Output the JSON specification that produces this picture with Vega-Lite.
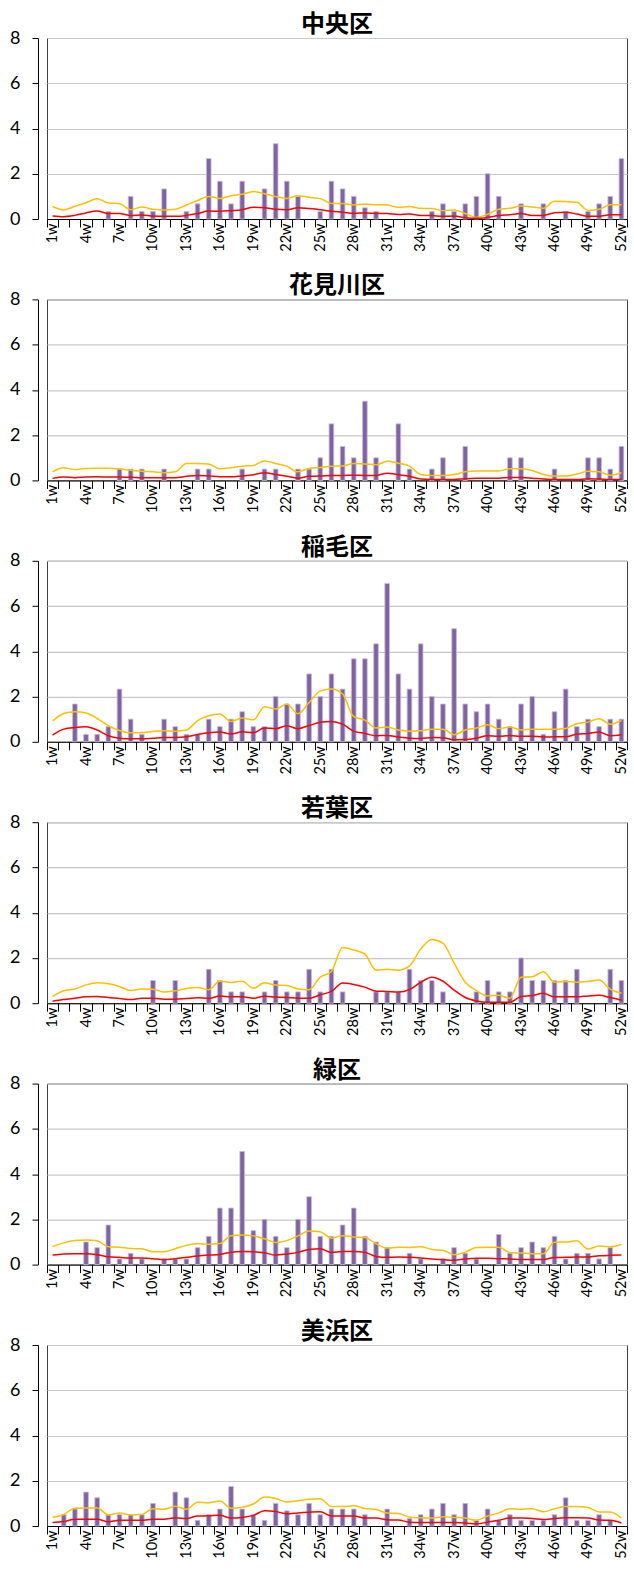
{
"$schema": "https://vega.github.io/schema/vega-lite/v6.json",
"padding": {"left": 9, "top": 12, "right": 0, "bottom": 0},
"background": "white",
"config": {
  "view": {"stroke": "#404040", "strokeWidth": 1},
  "font": "Lato",
  "axis": {"labelColor": "black", "domainColor": "black", "tickColor": "black", "title": null}
},
"data": {"values": [
{"k":"中央区","w":1,"v":0,"r":0.13,"o":0.55},{"k":"中央区","w":2,"v":0,"r":0.1,"o":0.4},{"k":"中央区","w":3,"v":0,"r":0.16,"o":0.56},{"k":"中央区","w":4,"v":0,"r":0.27,"o":0.72},{"k":"中央区","w":5,"v":0,"r":0.35,"o":0.9},{"k":"中央区","w":6,"v":0.33,"r":0.24,"o":0.71},{"k":"中央区","w":7,"v":0,"r":0.24,"o":0.68},{"k":"中央区","w":8,"v":1,"r":0.15,"o":0.41},{"k":"中央区","w":9,"v":0.33,"r":0.18,"o":0.53},{"k":"中央区","w":10,"v":0.33,"r":0.13,"o":0.43},
{"k":"中央区","w":11,"v":1.33,"r":0.12,"o":0.4},{"k":"中央区","w":12,"v":0,"r":0.12,"o":0.43},{"k":"中央区","w":13,"v":0.33,"r":0.16,"o":0.62},{"k":"中央区","w":14,"v":0.67,"r":0.24,"o":0.82},{"k":"中央区","w":15,"v":2.67,"r":0.35,"o":0.99},{"k":"中央区","w":16,"v":1.67,"r":0.34,"o":0.91},{"k":"中央区","w":17,"v":0.67,"r":0.37,"o":1.03},{"k":"中央区","w":18,"v":1.67,"r":0.41,"o":1.09},{"k":"中央区","w":19,"v":0,"r":0.52,"o":1.22},{"k":"中央区","w":20,"v":1.33,"r":0.5,"o":1.12},
{"k":"中央区","w":21,"v":3.33,"r":0.43,"o":0.99},{"k":"中央区","w":22,"v":1.67,"r":0.41,"o":0.91},{"k":"中央区","w":23,"v":1,"r":0.5,"o":1.03},{"k":"中央区","w":24,"v":0,"r":0.46,"o":0.96},{"k":"中央区","w":25,"v":0.33,"r":0.41,"o":0.9},{"k":"中央区","w":26,"v":1.67,"r":0.34,"o":0.69},{"k":"中央区","w":27,"v":1.33,"r":0.3,"o":0.69},{"k":"中央区","w":28,"v":1,"r":0.25,"o":0.62},{"k":"中央区","w":29,"v":0.5,"r":0.27,"o":0.66},{"k":"中央区","w":30,"v":0.33,"r":0.25,"o":0.63},
{"k":"中央区","w":31,"v":0,"r":0.24,"o":0.62},{"k":"中央区","w":32,"v":0,"r":0.2,"o":0.52},{"k":"中央区","w":33,"v":0,"r":0.22,"o":0.55},{"k":"中央区","w":34,"v":0,"r":0.16,"o":0.47},{"k":"中央区","w":35,"v":0.33,"r":0.15,"o":0.46},{"k":"中央区","w":36,"v":0.67,"r":0.12,"o":0.37},{"k":"中央区","w":37,"v":0.33,"r":0.13,"o":0.4},{"k":"中央区","w":38,"v":0.67,"r":0.06,"o":0.24},{"k":"中央区","w":39,"v":1,"r":0.03,"o":0.07},{"k":"中央区","w":40,"v":2,"r":0.07,"o":0.21},
{"k":"中央区","w":41,"v":1,"r":0.15,"o":0.43},{"k":"中央区","w":42,"v":0,"r":0.19,"o":0.47},{"k":"中央区","w":43,"v":0.67,"r":0.24,"o":0.57},{"k":"中央区","w":44,"v":0,"r":0.16,"o":0.53},{"k":"中央区","w":45,"v":0.67,"r":0.16,"o":0.47},{"k":"中央区","w":46,"v":0,"r":0.28,"o":0.78},{"k":"中央区","w":47,"v":0.33,"r":0.3,"o":0.77},{"k":"中央区","w":48,"v":0,"r":0.22,"o":0.74},{"k":"中央区","w":49,"v":0.33,"r":0.12,"o":0.38},{"k":"中央区","w":50,"v":0.67,"r":0.12,"o":0.43},
{"k":"中央区","w":51,"v":1,"r":0.19,"o":0.63},{"k":"中央区","w":52,"v":2.67,"r":0.19,"o":0.63},

{"k":"花見川区","w":1,"v":0,"r":0.09,"o":0.38},{"k":"花見川区","w":2,"v":0,"r":0.15,"o":0.56},{"k":"花見川区","w":3,"v":0,"r":0.12,"o":0.48},{"k":"花見川区","w":4,"v":0,"r":0.15,"o":0.53},{"k":"花見川区","w":5,"v":0,"r":0.16,"o":0.54},{"k":"花見川区","w":6,"v":0,"r":0.15,"o":0.54},{"k":"花見川区","w":7,"v":0.5,"r":0.15,"o":0.51},{"k":"花見川区","w":8,"v":0.5,"r":0.14,"o":0.45},{"k":"花見川区","w":9,"v":0.5,"r":0.12,"o":0.4},{"k":"花見川区","w":10,"v":0,"r":0.12,"o":0.38},
{"k":"花見川区","w":11,"v":0.5,"r":0.12,"o":0.34},{"k":"花見川区","w":12,"v":0,"r":0.12,"o":0.38},{"k":"花見川区","w":13,"v":0,"r":0.18,"o":0.75},{"k":"花見川区","w":14,"v":0.5,"r":0.22,"o":0.75},{"k":"花見川区","w":15,"v":0.5,"r":0.2,"o":0.72},{"k":"花見川区","w":16,"v":0,"r":0.16,"o":0.51},{"k":"花見川区","w":17,"v":0,"r":0.16,"o":0.56},{"k":"花見川区","w":18,"v":0.5,"r":0.2,"o":0.63},{"k":"花見川区","w":19,"v":0,"r":0.25,"o":0.66},{"k":"花見川区","w":20,"v":0.5,"r":0.34,"o":0.86},
{"k":"花見川区","w":21,"v":0.5,"r":0.26,"o":0.75},{"k":"花見川区","w":22,"v":0,"r":0.18,"o":0.63},{"k":"花見川区","w":23,"v":0.5,"r":0.1,"o":0.38},{"k":"花見川区","w":24,"v":0.5,"r":0.18,"o":0.53},{"k":"花見川区","w":25,"v":1,"r":0.19,"o":0.57},{"k":"花見川区","w":26,"v":2.5,"r":0.22,"o":0.63},{"k":"花見川区","w":27,"v":1.5,"r":0.22,"o":0.64},{"k":"花見川区","w":28,"v":1,"r":0.23,"o":0.75},{"k":"花見川区","w":29,"v":3.5,"r":0.22,"o":0.73},{"k":"花見川区","w":30,"v":1,"r":0.22,"o":0.69},
{"k":"花見川区","w":31,"v":0,"r":0.32,"o":0.85},{"k":"花見川区","w":32,"v":2.5,"r":0.25,"o":0.76},{"k":"花見川区","w":33,"v":0.5,"r":0.18,"o":0.63},{"k":"花見川区","w":34,"v":0,"r":0.06,"o":0.26},{"k":"花見川区","w":35,"v":0.5,"r":0.04,"o":0.22},{"k":"花見川区","w":36,"v":1,"r":0.04,"o":0.22},{"k":"花見川区","w":37,"v":0,"r":0.04,"o":0.26},{"k":"花見川区","w":38,"v":1.5,"r":0.07,"o":0.38},{"k":"花見川区","w":39,"v":0,"r":0.09,"o":0.42},{"k":"花見川区","w":40,"v":0,"r":0.1,"o":0.42},
{"k":"花見川区","w":41,"v":0,"r":0.1,"o":0.42},{"k":"花見川区","w":42,"v":1,"r":0.13,"o":0.51},{"k":"花見川区","w":43,"v":1,"r":0.13,"o":0.51},{"k":"花見川区","w":44,"v":0,"r":0.1,"o":0.44},{"k":"花見川区","w":45,"v":0,"r":0.06,"o":0.26},{"k":"花見川区","w":46,"v":0.5,"r":0.04,"o":0.19},{"k":"花見川区","w":47,"v":0,"r":0.04,"o":0.19},{"k":"花見川区","w":48,"v":0,"r":0.04,"o":0.28},{"k":"花見川区","w":49,"v":1,"r":0.07,"o":0.4},{"k":"花見川区","w":50,"v":1,"r":0.06,"o":0.38},
{"k":"花見川区","w":51,"v":0.5,"r":0.04,"o":0.23},{"k":"花見川区","w":52,"v":1.5,"r":0.04,"o":0.34},

{"k":"稲毛区","w":1,"v":0,"r":0.3,"o":0.92},{"k":"稲毛区","w":2,"v":0,"r":0.56,"o":1.25},{"k":"稲毛区","w":3,"v":1.67,"r":0.63,"o":1.33},{"k":"稲毛区","w":4,"v":0.33,"r":0.66,"o":1.27},{"k":"稲毛区","w":5,"v":0.33,"r":0.52,"o":1.03},{"k":"稲毛区","w":6,"v":0.67,"r":0.27,"o":0.71},{"k":"稲毛区","w":7,"v":2.33,"r":0.16,"o":0.5},{"k":"稲毛区","w":8,"v":1,"r":0.13,"o":0.4},{"k":"稲毛区","w":9,"v":0.33,"r":0.13,"o":0.41},{"k":"稲毛区","w":10,"v":0,"r":0.16,"o":0.46},
{"k":"稲毛区","w":11,"v":1,"r":0.19,"o":0.49},{"k":"稲毛区","w":12,"v":0.67,"r":0.19,"o":0.47},{"k":"稲毛区","w":13,"v":0.33,"r":0.22,"o":0.52},{"k":"稲毛区","w":14,"v":0.33,"r":0.32,"o":0.94},{"k":"稲毛区","w":15,"v":1,"r":0.4,"o":1.15},{"k":"稲毛区","w":16,"v":0.67,"r":0.43,"o":1.23},{"k":"稲毛区","w":17,"v":1,"r":0.34,"o":0.9},{"k":"稲毛区","w":18,"v":1.33,"r":0.44,"o":1.05},{"k":"稲毛区","w":19,"v":0.67,"r":0.4,"o":0.97},{"k":"稲毛区","w":20,"v":0.67,"r":0.61,"o":1.55},
{"k":"稲毛区","w":21,"v":2,"r":0.58,"o":1.45},{"k":"稲毛区","w":22,"v":1.67,"r":0.71,"o":1.67},{"k":"稲毛区","w":23,"v":1.67,"r":0.58,"o":1.24},{"k":"稲毛区","w":24,"v":3,"r":0.72,"o":1.74},{"k":"稲毛区","w":25,"v":2,"r":0.86,"o":2.24},{"k":"稲毛区","w":26,"v":3,"r":0.9,"o":2.33},{"k":"稲毛区","w":27,"v":2.33,"r":0.78,"o":2.11},{"k":"稲毛区","w":28,"v":3.67,"r":0.47,"o":1.11},{"k":"稲毛区","w":29,"v":3.67,"r":0.37,"o":0.96},{"k":"稲毛区","w":30,"v":4.33,"r":0.27,"o":0.61},
{"k":"稲毛区","w":31,"v":7,"r":0.28,"o":0.65},{"k":"稲毛区","w":32,"v":3,"r":0.21,"o":0.52},{"k":"稲毛区","w":33,"v":2.33,"r":0.16,"o":0.47},{"k":"稲毛区","w":34,"v":4.33,"r":0.15,"o":0.49},{"k":"稲毛区","w":35,"v":2,"r":0.19,"o":0.56},{"k":"稲毛区","w":36,"v":1.67,"r":0.18,"o":0.56},{"k":"稲毛区","w":37,"v":5,"r":0.09,"o":0.31},{"k":"稲毛区","w":38,"v":1.67,"r":0.1,"o":0.52},{"k":"稲毛区","w":39,"v":1.33,"r":0.16,"o":0.61},{"k":"稲毛区","w":40,"v":1.67,"r":0.27,"o":0.75},
{"k":"稲毛区","w":41,"v":1,"r":0.24,"o":0.58},{"k":"稲毛区","w":42,"v":0.67,"r":0.28,"o":0.65},{"k":"稲毛区","w":43,"v":1.67,"r":0.24,"o":0.52},{"k":"稲毛区","w":44,"v":2,"r":0.25,"o":0.56},{"k":"稲毛区","w":45,"v":0.33,"r":0.21,"o":0.56},{"k":"稲毛区","w":46,"v":1.33,"r":0.22,"o":0.56},{"k":"稲毛区","w":47,"v":2.33,"r":0.22,"o":0.59},{"k":"稲毛区","w":48,"v":0.67,"r":0.34,"o":0.8},{"k":"稲毛区","w":49,"v":1,"r":0.37,"o":0.87},{"k":"稲毛区","w":50,"v":0.67,"r":0.43,"o":1.02},
{"k":"稲毛区","w":51,"v":1,"r":0.27,"o":0.78},{"k":"稲毛区","w":52,"v":1,"r":0.31,"o":0.94},

{"k":"若葉区","w":1,"v":0,"r":0.09,"o":0.3},{"k":"若葉区","w":2,"v":0,"r":0.16,"o":0.55},{"k":"若葉区","w":3,"v":0,"r":0.22,"o":0.63},{"k":"若葉区","w":4,"v":0,"r":0.28,"o":0.81},{"k":"若葉区","w":5,"v":0,"r":0.3,"o":0.9},{"k":"若葉区","w":6,"v":0,"r":0.25,"o":0.86},{"k":"若葉区","w":7,"v":0,"r":0.21,"o":0.74},{"k":"若葉区","w":8,"v":0,"r":0.16,"o":0.56},{"k":"若葉区","w":9,"v":0,"r":0.22,"o":0.63},{"k":"若葉区","w":10,"v":1,"r":0.22,"o":0.62},
{"k":"若葉区","w":11,"v":0,"r":0.18,"o":0.49},{"k":"若葉区","w":12,"v":1,"r":0.18,"o":0.55},{"k":"若葉区","w":13,"v":0,"r":0.21,"o":0.65},{"k":"若葉区","w":14,"v":0,"r":0.24,"o":0.69},{"k":"若葉区","w":15,"v":1.5,"r":0.21,"o":0.6},{"k":"若葉区","w":16,"v":1,"r":0.32,"o":0.97},{"k":"若葉区","w":17,"v":0.5,"r":0.28,"o":0.92},{"k":"若葉区","w":18,"v":0.5,"r":0.28,"o":0.97},{"k":"若葉区","w":19,"v":0,"r":0.22,"o":0.66},{"k":"若葉区","w":20,"v":0.5,"r":0.31,"o":0.9},
{"k":"若葉区","w":21,"v":1,"r":0.27,"o":0.8},{"k":"若葉区","w":22,"v":0.5,"r":0.25,"o":0.78},{"k":"若葉区","w":23,"v":0.5,"r":0.22,"o":0.63},{"k":"若葉区","w":24,"v":1.5,"r":0.22,"o":0.6},{"k":"若葉区","w":25,"v":0.5,"r":0.37,"o":1.15},{"k":"若葉区","w":26,"v":1.5,"r":0.52,"o":1.4},{"k":"若葉区","w":27,"v":0.5,"r":0.89,"o":2.46},{"k":"若葉区","w":28,"v":0,"r":0.83,"o":2.35},{"k":"若葉区","w":29,"v":0,"r":0.71,"o":2.17},{"k":"若葉区","w":30,"v":0.5,"r":0.53,"o":1.46},
{"k":"若葉区","w":31,"v":0.5,"r":0.52,"o":1.5},{"k":"若葉区","w":32,"v":0.5,"r":0.49,"o":1.46},{"k":"若葉区","w":33,"v":1.5,"r":0.6,"o":1.65},{"k":"若葉区","w":34,"v":1,"r":0.92,"o":2.39},{"k":"若葉区","w":35,"v":1,"r":1.15,"o":2.82},{"k":"若葉区","w":36,"v":0.5,"r":0.97,"o":2.66},{"k":"若葉区","w":37,"v":0,"r":0.58,"o":1.77},{"k":"若葉区","w":38,"v":0,"r":0.25,"o":0.93},{"k":"若葉区","w":39,"v":0.5,"r":0.1,"o":0.56},{"k":"若葉区","w":40,"v":1,"r":0.04,"o":0.32},
{"k":"若葉区","w":41,"v":0.5,"r":0.04,"o":0.35},{"k":"若葉区","w":42,"v":0.5,"r":0.04,"o":0.22},{"k":"若葉区","w":43,"v":2,"r":0.3,"o":1.15},{"k":"若葉区","w":44,"v":1,"r":0.34,"o":1.17},{"k":"若葉区","w":45,"v":1,"r":0.44,"o":1.39},{"k":"若葉区","w":46,"v":1,"r":0.28,"o":0.93},{"k":"若葉区","w":47,"v":1,"r":0.28,"o":0.96},{"k":"若葉区","w":48,"v":1.5,"r":0.28,"o":0.93},{"k":"若葉区","w":49,"v":0,"r":0.32,"o":0.96},{"k":"若葉区","w":50,"v":0,"r":0.35,"o":1.02},
{"k":"若葉区","w":51,"v":1.5,"r":0.25,"o":0.62},{"k":"若葉区","w":52,"v":1,"r":0.13,"o":0.44},

{"k":"緑区","w":1,"v":0,"r":0.42,"o":0.8},{"k":"緑区","w":2,"v":0,"r":0.47,"o":0.96},{"k":"緑区","w":3,"v":0,"r":0.48,"o":1.06},{"k":"緑区","w":4,"v":1,"r":0.48,"o":1.09},{"k":"緑区","w":5,"v":0.75,"r":0.44,"o":1.05},{"k":"緑区","w":6,"v":1.75,"r":0.35,"o":0.79},{"k":"緑区","w":7,"v":0.25,"r":0.32,"o":0.77},{"k":"緑区","w":8,"v":0.5,"r":0.29,"o":0.71},{"k":"緑区","w":9,"v":0.25,"r":0.29,"o":0.7},{"k":"緑区","w":10,"v":0,"r":0.26,"o":0.57},
{"k":"緑区","w":11,"v":0.25,"r":0.22,"o":0.57},{"k":"緑区","w":12,"v":0.25,"r":0.26,"o":0.7},{"k":"緑区","w":13,"v":0.25,"r":0.32,"o":0.85},{"k":"緑区","w":14,"v":0.75,"r":0.38,"o":0.93},{"k":"緑区","w":15,"v":1.25,"r":0.42,"o":0.9},{"k":"緑区","w":16,"v":2.5,"r":0.45,"o":0.93},{"k":"緑区","w":17,"v":2.5,"r":0.55,"o":1.28},{"k":"緑区","w":18,"v":5,"r":0.58,"o":1.31},{"k":"緑区","w":19,"v":1.5,"r":0.57,"o":1.27},{"k":"緑区","w":20,"v":2,"r":0.52,"o":1.14},
{"k":"緑区","w":21,"v":1.25,"r":0.42,"o":0.98},{"k":"緑区","w":22,"v":0.75,"r":0.47,"o":1.06},{"k":"緑区","w":23,"v":2,"r":0.54,"o":1.27},{"k":"緑区","w":24,"v":3,"r":0.67,"o":1.49},{"k":"緑区","w":25,"v":1.25,"r":0.7,"o":1.45},{"k":"緑区","w":26,"v":1.25,"r":0.54,"o":1.17},{"k":"緑区","w":27,"v":1.75,"r":0.58,"o":1.28},{"k":"緑区","w":28,"v":2.5,"r":0.58,"o":1.22},{"k":"緑区","w":29,"v":1.25,"r":0.54,"o":1.2},{"k":"緑区","w":30,"v":1,"r":0.36,"o":0.92},
{"k":"緑区","w":31,"v":0.75,"r":0.32,"o":0.73},{"k":"緑区","w":32,"v":0,"r":0.34,"o":0.77},{"k":"緑区","w":33,"v":0.5,"r":0.32,"o":0.76},{"k":"緑区","w":34,"v":0.25,"r":0.29,"o":0.79},{"k":"緑区","w":35,"v":0,"r":0.25,"o":0.67},{"k":"緑区","w":36,"v":0.25,"r":0.22,"o":0.63},{"k":"緑区","w":37,"v":0.75,"r":0.19,"o":0.44},{"k":"緑区","w":38,"v":0.5,"r":0.25,"o":0.55},{"k":"緑区","w":39,"v":0.25,"r":0.28,"o":0.76},{"k":"緑区","w":40,"v":0,"r":0.28,"o":0.77},
{"k":"緑区","w":41,"v":1.33,"r":0.26,"o":0.77},{"k":"緑区","w":42,"v":0.5,"r":0.25,"o":0.54},{"k":"緑区","w":43,"v":0.75,"r":0.22,"o":0.51},{"k":"緑区","w":44,"v":1,"r":0.22,"o":0.48},{"k":"緑区","w":45,"v":0.75,"r":0.23,"o":0.48},{"k":"緑区","w":46,"v":1.25,"r":0.31,"o":0.99},{"k":"緑区","w":47,"v":0.25,"r":0.32,"o":1.0},{"k":"緑区","w":48,"v":0.5,"r":0.34,"o":1.05},{"k":"緑区","w":49,"v":0.5,"r":0.34,"o":0.69},{"k":"緑区","w":50,"v":0.25,"r":0.39,"o":0.82},
{"k":"緑区","w":51,"v":0.75,"r":0.41,"o":0.79},{"k":"緑区","w":52,"v":0,"r":0.42,"o":0.89},

{"k":"美浜区","w":1,"v":0,"r":0.15,"o":0.39},{"k":"美浜区","w":2,"v":0.5,"r":0.2,"o":0.51},{"k":"美浜区","w":3,"v":0.75,"r":0.3,"o":0.79},{"k":"美浜区","w":4,"v":1.5,"r":0.3,"o":0.8},{"k":"美浜区","w":5,"v":1.25,"r":0.3,"o":0.8},{"k":"美浜区","w":6,"v":0.5,"r":0.19,"o":0.49},{"k":"美浜区","w":7,"v":0.5,"r":0.25,"o":0.57},{"k":"美浜区","w":8,"v":0.5,"r":0.25,"o":0.49},{"k":"美浜区","w":9,"v":0.5,"r":0.25,"o":0.51},{"k":"美浜区","w":10,"v":1,"r":0.3,"o":0.76},
{"k":"美浜区","w":11,"v":0,"r":0.3,"o":0.74},{"k":"美浜区","w":12,"v":1.5,"r":0.36,"o":0.87},{"k":"美浜区","w":13,"v":1.25,"r":0.33,"o":0.74},{"k":"美浜区","w":14,"v":0.25,"r":0.44,"o":1.05},{"k":"美浜区","w":15,"v":0.5,"r":0.45,"o":1.03},{"k":"美浜区","w":16,"v":0.75,"r":0.47,"o":1.1},{"k":"美浜区","w":17,"v":1.75,"r":0.35,"o":0.79},{"k":"美浜区","w":18,"v":0.75,"r":0.38,"o":0.83},{"k":"美浜区","w":19,"v":0.5,"r":0.47,"o":0.97},{"k":"美浜区","w":20,"v":0.25,"r":0.67,"o":1.28},
{"k":"美浜区","w":21,"v":1,"r":0.64,"o":1.22},{"k":"美浜区","w":22,"v":0.67,"r":0.54,"o":1.06},{"k":"美浜区","w":23,"v":0.5,"r":0.58,"o":1.12},{"k":"美浜区","w":24,"v":1,"r":0.61,"o":1.18},{"k":"美浜区","w":25,"v":0.5,"r":0.63,"o":1.2},{"k":"美浜区","w":26,"v":0.75,"r":0.44,"o":0.86},{"k":"美浜区","w":27,"v":0.75,"r":0.44,"o":0.86},{"k":"美浜区","w":28,"v":0.75,"r":0.44,"o":0.89},{"k":"美浜区","w":29,"v":0.5,"r":0.35,"o":0.77},{"k":"美浜区","w":30,"v":0,"r":0.35,"o":0.73},
{"k":"美浜区","w":31,"v":0.75,"r":0.28,"o":0.57},{"k":"美浜区","w":32,"v":0,"r":0.26,"o":0.55},{"k":"美浜区","w":33,"v":0.33,"r":0.17,"o":0.39},{"k":"美浜区","w":34,"v":0.5,"r":0.15,"o":0.36},{"k":"美浜区","w":35,"v":0.75,"r":0.15,"o":0.35},{"k":"美浜区","w":36,"v":1,"r":0.15,"o":0.41},{"k":"美浜区","w":37,"v":0.5,"r":0.15,"o":0.38},{"k":"美浜区","w":38,"v":1,"r":0.13,"o":0.35},{"k":"美浜区","w":39,"v":0.25,"r":0.09,"o":0.25},{"k":"美浜区","w":40,"v":0.75,"r":0.17,"o":0.44},
{"k":"美浜区","w":41,"v":0.25,"r":0.25,"o":0.58},{"k":"美浜区","w":42,"v":0.5,"r":0.35,"o":0.76},{"k":"美浜区","w":43,"v":0.25,"r":0.35,"o":0.74},{"k":"美浜区","w":44,"v":0.25,"r":0.33,"o":0.76},{"k":"美浜区","w":45,"v":0.25,"r":0.29,"o":0.63},{"k":"美浜区","w":46,"v":0.5,"r":0.33,"o":0.76},{"k":"美浜区","w":47,"v":1.25,"r":0.36,"o":0.86},{"k":"美浜区","w":48,"v":0.25,"r":0.36,"o":0.86},{"k":"美浜区","w":49,"v":0.25,"r":0.35,"o":0.82},{"k":"美浜区","w":50,"v":0.5,"r":0.26,"o":0.62},
{"k":"美浜区","w":51,"v":0.25,"r":0.25,"o":0.62},{"k":"美浜区","w":52,"v":0,"r":0.13,"o":0.35}
]},
"facet": {"field": "k", "type": "nominal", "sort": ["中央区","花見川区","稲毛区","若葉区","緑区","美浜区"],
  "header": {"title": null, "labelFont": "Noto Sans CJK JP", "labelFontSize": 24, "labelFontWeight": "bold", "labelColor": "black", "labelPadding": 1}},
"columns": 1,
"spacing": 21.4,
"resolve": {"axis": {"x": "independent"}},
"spec": {
  "width": 580,
  "height": 181,
  "encoding": {
    "x": {"field": "w", "type": "ordinal", "scale": {"paddingInner": 0, "paddingOuter": 0},
      "axis": {"labelAngle": -90, "labelFontSize": 14.5, "labelPadding": -4, "tickSize": 8, "tickBand": "extent", "labelOverlap": false, "grid": false,
        "labelExpr": "(datum.value - 1) % 3 == 0 ? datum.value + 'w' : ''"}}
  },
  "layer": [
    {"transform": [{"filter": "datum.v > 0"}],
     "mark": {"type": "bar", "width": {"band": 0.42}, "color": "#8064A2", "stroke": "#C9BCDB", "strokeWidth": 0.8},
     "encoding": {"y": {"field": "v", "type": "quantitative", "scale": {"domain": [0, 8]},
        "axis": {"values": [0, 2, 4, 6, 8], "labelFontSize": 18, "tickSize": 6, "labelPadding": 12, "gridColor": "#C8C8C8", "gridWidth": 1.2}}}},
    {"mark": {"type": "line", "color": "#FFC000", "strokeWidth": 1.5, "interpolate": "monotone"},
     "encoding": {"y": {"field": "o", "type": "quantitative"}}},
    {"mark": {"type": "line", "color": "#FF0000", "strokeWidth": 1.5, "interpolate": "monotone"},
     "encoding": {"y": {"field": "r", "type": "quantitative"}}}
  ]
}
}
